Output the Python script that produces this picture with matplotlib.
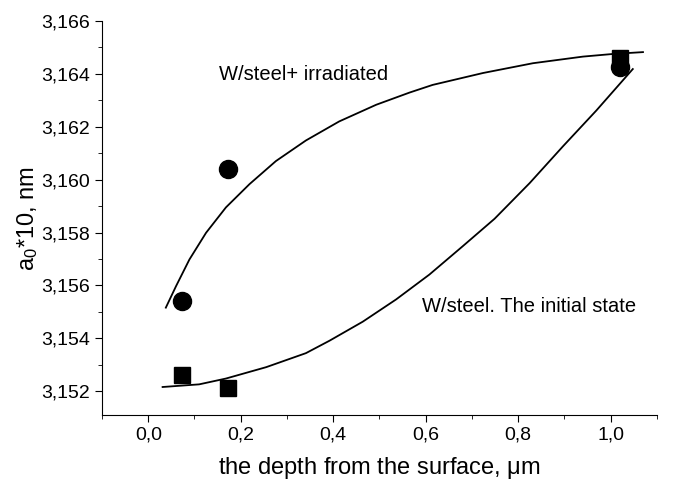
import numpy as np
import matplotlib
matplotlib.use("Agg")
import matplotlib.pyplot as plt
from matplotlib.ticker import MultipleLocator, FuncFormatter

plt.rcParams['font.family'] = ['Liberation Sans', 'DejaVu Sans']
plt.rcParams['mathtext.fontset'] = 'custom'
plt.rcParams['mathtext.rm'] = 'Liberation Sans'
plt.rcParams['mathtext.it'] = 'Liberation Sans:italic'

# measured points
irr_x = [0.072, 0.173, 1.02]
irr_y = [3.15543, 3.16041, 3.16424]
init_x = [0.072, 0.173, 1.02]
init_y = [3.15261, 3.15214, 3.16460]

# fitted curves
irr_fit_x = [0.038, 0.060, 0.089, 0.125, 0.168, 0.219, 0.276, 0.341, 0.413,
             0.493, 0.565, 0.615, 0.724, 0.832, 0.940, 1.005, 1.070]
irr_fit_y = [3.15516, 3.15597, 3.15698, 3.15799, 3.15895, 3.15983, 3.16070, 3.16148, 3.16220,
             3.16283, 3.16329, 3.16358, 3.16403, 3.16440, 3.16465, 3.16475, 3.16482]
init_fit_x = [0.031, 0.110, 0.168, 0.255, 0.341, 0.392, 0.464, 0.536, 0.608,
              0.680, 0.749, 0.825, 0.897, 0.969, 1.048]
init_fit_y = [3.15216, 3.15226, 3.15248, 3.15291, 3.15344, 3.15391, 3.15463, 3.15547, 3.15641,
              3.15748, 3.15852, 3.15987, 3.16126, 3.16261, 3.16418]

fig = plt.figure(figsize=(6.73, 4.86), dpi=100)
ax = fig.add_axes([0.1516, 0.146, 0.8244, 0.811])

ax.plot(irr_fit_x, irr_fit_y, color='black', lw=1.3)
ax.plot(init_fit_x, init_fit_y, color='black', lw=1.3)
ax.plot(init_x, init_y, 's', color='black', ms=11)
ax.plot(irr_x, irr_y, 'o', color='black', ms=13)

ax.text(0.154, 3.16396, 'W/steel+ irradiated', fontsize=14.5, va='center')
ax.text(0.591, 3.15522, 'W/steel. The initial state', fontsize=14.5, va='center')

ax.set_xlim(-0.1, 1.1)
ax.set_ylim(3.1511, 3.166)
ax.xaxis.set_major_locator(MultipleLocator(0.2))
ax.xaxis.set_minor_locator(MultipleLocator(0.1))
ax.yaxis.set_major_locator(MultipleLocator(0.002))
ax.yaxis.set_minor_locator(MultipleLocator(0.001))
ax.xaxis.set_major_formatter(FuncFormatter(lambda v, p: ('%.1f' % v).replace('.', ',')))
ax.yaxis.set_major_formatter(FuncFormatter(lambda v, p: ('%.3f' % v).replace('.', ',')))

for s in ['top', 'right']:
    ax.spines[s].set_visible(False)
ax.tick_params(which='major', length=5, labelsize=14, direction='out')
ax.tick_params(which='minor', length=3, direction='out')

ax.set_xlabel(r'the depth from the surface, $\mathregular{\mu}$m', fontsize=17, labelpad=8)
ax.set_ylabel(r'$\mathregular{a_0}$*10, nm', fontsize=17, labelpad=1)

fig.savefig('out.png', dpi=100)
